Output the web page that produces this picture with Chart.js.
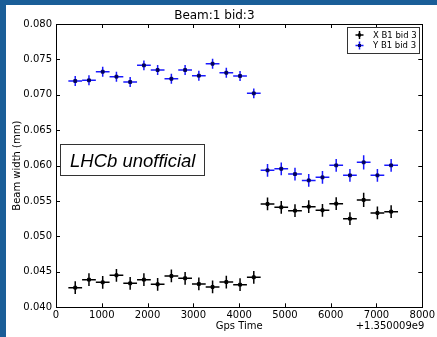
<!DOCTYPE html>
<html lang="en">
<head>
  <meta charset="UTF-8" />
  <title>Beam:1 bid:3</title>
  <script src="https://cdn.jsdelivr.net/npm/chart.js"></script>
  <style>
    html, body { margin: 0; padding: 0; background: #fff; }
    body { width: 100vw; height: 100vh; overflow: hidden; position: relative; }
    .band { position: absolute; background: #1a5e98; }
    #bandTop { left: 0; top: 0; right: 0; height: 5px; }
    #bandLeft { left: 0; top: 0; width: 6px; bottom: 0; }
    #frame { position: absolute; left: 6px; top: 5px; width: 431px; height: 332px; background: #fff; }
  </style>
</head>
<body>
<div class="band" id="bandTop"></div>
<div class="band" id="bandLeft"></div>
<div id="frame"><canvas id="beamChart"></canvas></div>

<script>
// time offsets (s) relative to 1.350009e9
const gpsTime = [420, 720, 1020, 1320, 1620, 1920, 2220, 2520, 2820, 3120, 3420, 3720, 4020, 4320,
                 4620, 4920, 5220, 5520, 5820, 6120, 6420, 6720, 7020, 7320];
const timeErr = [150, 150, 150, 150, 150, 150, 150, 150, 150, 150, 150, 150, 150, 150,
                 150, 150, 150, 150, 150, 150, 150, 150, 150, 150];

// X B1 bid 3
const widthX = [0.04277, 0.04390, 0.04353, 0.04452, 0.04339, 0.04390, 0.04325, 0.04442, 0.04410, 0.04329, 0.04287, 0.04357, 0.04319, 0.04424,
                0.05459, 0.05412, 0.05364, 0.05421, 0.05370, 0.05463, 0.05251, 0.05516, 0.05332, 0.05350];
const errX = [0.0009, 0.0009, 0.0009, 0.0009, 0.0009, 0.0009, 0.0009, 0.0009, 0.0009, 0.0009, 0.0009, 0.0009, 0.0009, 0.0009,
              0.0009, 0.0009, 0.0009, 0.0009, 0.0009, 0.0009, 0.0009, 0.0010, 0.0009, 0.0009];

// Y B1 bid 3
const widthY = [0.07195, 0.07205, 0.07326, 0.07256, 0.07181, 0.07416, 0.07350, 0.07227, 0.07350, 0.07270, 0.07439, 0.07312, 0.07266, 0.07021,
                0.05934, 0.05956, 0.05881, 0.05792, 0.05835, 0.06004, 0.05863, 0.06047, 0.05863, 0.06004];
const errY = [0.0007, 0.0007, 0.0007, 0.0007, 0.0007, 0.0007, 0.0007, 0.0007, 0.0007, 0.0007, 0.0007, 0.0007, 0.0007, 0.0007,
              0.0009, 0.0009, 0.0009, 0.0009, 0.0009, 0.0009, 0.0009, 0.0010, 0.0009, 0.0009];

const xTicks = [0, 1000, 2000, 3000, 4000, 5000, 6000, 7000, 8000];
const yTicks = [0.040, 0.045, 0.050, 0.055, 0.060, 0.065, 0.070, 0.075, 0.080];

const FONT = "'DejaVu Sans', sans-serif";

function pts(ys, yerr) {
  return gpsTime.map((t, i) => ({ x: t, y: ys[i], xe: timeErr[i], ye: yerr[i] }));
}

// error bars under the markers
const errorBars = {
  id: 'errorBars',
  beforeDatasetsDraw(chart) {
    const ctx = chart.ctx;
    const xs = chart.scales.x, ys = chart.scales.y;
    chart.data.datasets.forEach(ds => {
      ctx.save();
      ctx.strokeStyle = ds.barColor;
      ctx.lineWidth = 1.5;
      ds.data.forEach(p => {
        const cx = xs.getPixelForValue(p.x), cy = ys.getPixelForValue(p.y);
        ctx.beginPath();
        ctx.moveTo(xs.getPixelForValue(p.x - p.xe), cy);
        ctx.lineTo(xs.getPixelForValue(p.x + p.xe), cy);
        ctx.moveTo(cx, ys.getPixelForValue(p.y - p.ye));
        ctx.lineTo(cx, ys.getPixelForValue(p.y + p.ye));
        ctx.stroke();
      });
      ctx.restore();
    });
  }
};

// frame, inward ticks, legend, labels
const decorations = {
  id: 'decorations',
  afterDraw(chart) {
    const ctx = chart.ctx;
    const a = chart.chartArea;
    const xs = chart.scales.x, ys = chart.scales.y;
    ctx.save();
    ctx.strokeStyle = '#000';
    ctx.lineWidth = 1;
    ctx.strokeRect(Math.round(a.left) + 0.5, Math.round(a.top) + 0.5,
                   Math.round(a.right - a.left), Math.round(a.bottom - a.top));
    ctx.beginPath();
    xTicks.forEach(v => {
      const px = Math.round(xs.getPixelForValue(v)) + 0.5;
      ctx.moveTo(px, a.bottom); ctx.lineTo(px, a.bottom - 4);
      ctx.moveTo(px, a.top); ctx.lineTo(px, a.top + 4);
    });
    yTicks.forEach(v => {
      const py = Math.round(ys.getPixelForValue(v)) + 0.5;
      ctx.moveTo(a.left, py); ctx.lineTo(a.left + 4, py);
      ctx.moveTo(a.right, py); ctx.lineTo(a.right - 4, py);
    });
    ctx.stroke();

    // offset text
    ctx.fillStyle = '#000';
    ctx.font = '10px ' + FONT;
    ctx.textAlign = 'right';
    ctx.textBaseline = 'middle';
    ctx.fillText('+1.350009e9', a.right + 2, 321.5);

    // legend
    const lx = 341, ly = 22, lw = 72, lh = 26;
    ctx.strokeStyle = '#333';
    ctx.strokeRect(lx + 0.5, ly + 0.5, lw, lh);
    ctx.font = '8.5px ' + FONT;
    ctx.textAlign = 'left';
    chart.data.datasets.forEach((ds, i) => {
      const cy = ly + 8 + i * 10.5, cx = lx + 12.5;
      ctx.strokeStyle = ds.barColor;
      ctx.lineWidth = 1.5;
      ctx.beginPath();
      ctx.moveTo(cx - 4, cy); ctx.lineTo(cx + 4, cy);
      ctx.moveTo(cx, cy - 4); ctx.lineTo(cx, cy + 4);
      ctx.stroke();
      ctx.fillStyle = ds.pointBackgroundColor;
      ctx.fillRect(cx - 1.5, cy - 1.5, 3, 3);
      ctx.fillStyle = '#000';
      ctx.fillText(ds.label, lx + 26, cy + 0.5);
    });

    // LHCb unofficial box
    ctx.strokeStyle = '#333';
    ctx.lineWidth = 1;
    ctx.strokeRect(54.5, 139.5, 144, 31);
    ctx.fillStyle = '#000';
    ctx.font = 'italic 18.5px "Liberation Sans", Arial, sans-serif';
    ctx.textAlign = 'left';
    ctx.textBaseline = 'alphabetic';
    ctx.fillText('LHCb unofficial', 64, 162);
    ctx.restore();
  }
};

new Chart(document.getElementById('beamChart').getContext('2d'), {
  type: 'scatter',
  data: {
    datasets: [
      {
        label: 'X B1 bid 3',
        data: pts(widthX, errX),
        barColor: '#000',
        pointStyle: 'rect',
        pointRadius: 2,
        pointBorderWidth: 1,
        pointBackgroundColor: '#000',
        pointBorderColor: '#000'
      },
      {
        label: 'Y B1 bid 3',
        data: pts(widthY, errY),
        barColor: 'rgba(0, 0, 255, 0.9)',
        pointStyle: 'rect',
        pointRadius: 2,
        pointBorderWidth: 1,
        pointBackgroundColor: '#000060',
        pointBorderColor: '#000060'
      }
    ]
  },
  options: {
    responsive: true,
    maintainAspectRatio: false,
    animation: false,
    layout: { padding: { top: 0, right: 14.3, left: 0, bottom: 0 } },
    plugins: {
      legend: { display: false },
      tooltip: { enabled: false },
      title: {
        display: true,
        text: 'Beam:1 bid:3',
        color: '#000',
        font: { family: FONT, size: 12, weight: 'normal', lineHeight: 1.2 },
        padding: { top: 4, bottom: 0.6 }
      }
    },
    scales: {
      x: {
        type: 'linear',
        min: 0, max: 8000,
        afterFit: s => { s.height = 29.7; },
        afterBuildTicks: s => { s.ticks = xTicks.map(v => ({ value: v })); },
        grid: { display: false, drawTicks: false },
        border: { display: false },
        ticks: { color: '#000', font: { family: FONT, size: 10 }, padding: 2, maxRotation: 0,
                 callback: v => String(v) },
        title: { display: true, text: 'Gps Time', color: '#000',
                 font: { family: FONT, size: 10 }, padding: { top: 0, bottom: 4.3 } }
      },
      y: {
        min: 0.040, max: 0.080,
        afterFit: s => { s.width = 50; },
        afterBuildTicks: s => { s.ticks = yTicks.map(v => ({ value: v })); },
        grid: { display: false, drawTicks: false },
        border: { display: false },
        ticks: { color: '#000', font: { family: FONT, size: 10 }, padding: 4,
                 callback: v => v.toFixed(3) },
        title: { display: true, text: 'Beam width (mm)', color: '#000',
                 font: { family: FONT, size: 10 }, padding: { top: 5, bottom: 0 } }
      }
    }
  },
  plugins: [errorBars, decorations]
});
</script>
</body>
</html>
